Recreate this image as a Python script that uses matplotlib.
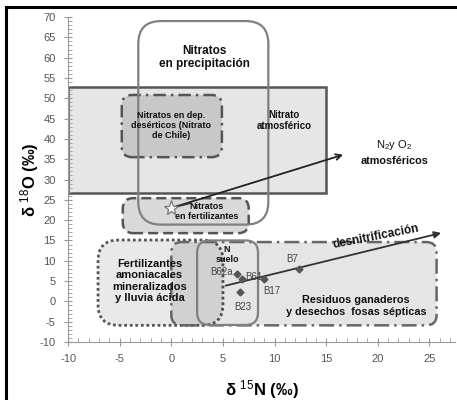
import numpy as np
import matplotlib
matplotlib.use('Agg')
import matplotlib.pyplot as plt
from matplotlib.patches import FancyBboxPatch, Rectangle
from matplotlib.lines import Line2D
from matplotlib.ticker import MultipleLocator

plt.rcParams['font.family'] = ['Liberation Sans', 'DejaVu Sans']
plt.rcParams['axes.unicode_minus'] = False
plt.rcParams['mathtext.fontset'] = 'custom'
plt.rcParams['mathtext.rm'] = 'Liberation Sans'
plt.rcParams['mathtext.it'] = 'Liberation Sans:italic'
plt.rcParams['mathtext.bf'] = 'Liberation Sans:bold'

# ===== データ =====
# 試料点 (δ15N, δ18O)
muestras = ['B62a', 'B61', 'B17', 'B7', 'B23']
d15N = [6.4, 6.8, 9.0, 12.4, 6.7]
d18O = [6.7, 5.5, 5.5, 7.9, 2.3]

# 起源ボックス (x0, y0, x1, y1)
caja_precip = (-3.2, 18.9, 9.4, 69.0)
caja_atm = (-10.0, 26.6, 15.0, 52.8)
caja_chile = (-4.8, 35.5, 4.9, 50.8)
caja_fert = (-4.7, 16.8, 7.5, 25.4)
caja_amon = (-7.1, -5.9, 5.0, 15.1)
caja_resid = (0.0, -5.9, 25.7, 14.6)
caja_suelo = (2.5, -5.8, 8.4, 15.0)

estrella = (0.0, 23.0)
flecha_atm = (16.9, 36.3)
desnit_ini = (5.0, 3.7)
desnit_fin = (26.4, 17.0)

fig = plt.figure(figsize=(4.57, 4.0), dpi=100)
ax = fig.add_axes([0.149, 0.145, 0.847, 0.8125])
ax.set_xlim(-10, 27.5)
ax.set_ylim(-10, 70)

# x方向とy方向のピクセル比
asp = 10.37 / 4.06


def caja(b, r, fc, ec, ls, lw, z):
    x0, y0, x1, y1 = b
    p = FancyBboxPatch((x0, y0), x1 - x0, y1 - y0,
                       boxstyle=f'round,pad=0,rounding_size={r}',
                       mutation_aspect=asp, facecolor=fc, edgecolor=ec,
                       linestyle=ls, linewidth=lw, zorder=z)
    ax.add_patch(p)
    return p


# Nitrato atmosférico
x0, y0, x1, y1 = caja_atm
ax.add_patch(Rectangle((x0, y0), x1 - x0, y1 - y0, facecolor='#e6e6e6',
                       edgecolor='#555555', linewidth=1.8, zorder=1))
# Nitratos en precipitación
caja(caja_precip, 2.2, 'none', '#808080', '-', 1.6, 4)
# Nitratos en dep. desérticos
caja(caja_chile, 1.0, '#c8c8c8', '#555555', (0, (5, 2, 1, 2)), 1.8, 3)
# Nitratos en fertilizantes
caja(caja_fert, 1.0, '#d9d9d9', '#555555', (0, (4, 2)), 1.8, 2)
# Fertilizantes amoniacales
caja(caja_amon, 2.0, (0, 0, 0, 0.085), '#555555', (0, (1, 1)), 2.0, 2)
# Residuos ganaderos
caja(caja_resid, 1.0, (0, 0, 0, 0.1), '#666666', (0, (6, 2, 1, 2)), 1.8, 2)
# N suelo
caja(caja_suelo, 1.2, 'none', '#808080', '-', 1.6, 4)

# 矢印
ax.annotate('', xy=flecha_atm, xytext=estrella,
            arrowprops=dict(arrowstyle='->', color='#222222', lw=1.3), zorder=6)
ax.annotate('', xy=desnit_fin, xytext=desnit_ini,
            arrowprops=dict(arrowstyle='-|>', color='#333333', lw=1.3,
                            mutation_scale=10), zorder=6)
ax.plot([estrella[0], 1.9], [estrella[1], 24.2], color='#333333', lw=1.2, zorder=6)
ax.plot(*estrella, marker='*', markersize=11, markerfacecolor='white',
        markeredgecolor='#777777', markeredgewidth=0.9, zorder=7)

# 試料点
ax.plot(d15N, d18O, linestyle='none', marker='D', markersize=3.5,
        color='#555555', zorder=7)
offs = {'B62a': (-2.6, 0.6), 'B61': (0.4, 0.4), 'B17': (-0.1, -3.0),
        'B7': (-1.3, 2.6), 'B23': (-0.6, -3.6)}
for m, x, y in zip(muestras, d15N, d18O):
    dx, dy = offs[m]
    ax.text(x + dx, y + dy, m, fontsize=7, color='#444444', ha='left',
            va='center', zorder=8)

# テキスト
tk = dict(ha='center', va='center', fontweight='bold', zorder=8, color='#111111')
narrow = ['Liberation Sans Narrow', 'Liberation Sans']
ax.text(3.2, 60.0, 'Nitratos\nen precipitación', fontsize=8.5, linespacing=1.1, **tk)
ax.text(0.0, 43.4, 'Nitratos en dep.\ndesérticos (Nitrato\nde Chile)', fontsize=6.5,
        linespacing=1.15, family=narrow, **tk)
ax.text(10.9, 44.6, 'Nitrato\natmosférico', fontsize=7, linespacing=1.15, **tk)
ax.text(21.6, 38.4, 'N$_2$y O$_2$', fontsize=8, ha='center', va='center',
        color='#111111', zorder=8)
ax.text(21.6, 34.6, 'atmosféricos', fontsize=7.8, **tk)
ax.text(3.4, 22.2, 'Nitratos\nen fertilizantes', fontsize=6.5, linespacing=1.15,
        family=narrow, **tk)
ax.text(-2.1, 5.0, 'Fertilizantes\namoniacales\nmineralizados\ny lluvia ácida',
        fontsize=8, linespacing=1.15, **tk)
ax.text(5.4, 11.6, 'N\nsuelo', fontsize=6.5, linespacing=1.2, **tk)
ax.text(17.9, -1.2, 'Residuos ganaderos\ny desechos  fosas sépticas', fontsize=7.8,
        linespacing=1.2, **tk)
ax.text(19.8, 16.0, 'desnitrificación', fontsize=8.5, rotation=11, **tk)

# 軸
for s in ['top', 'right']:
    ax.spines[s].set_visible(False)
for s in ['left', 'bottom']:
    ax.spines[s].set_color('#999999')
ax.xaxis.set_major_locator(MultipleLocator(5))
ax.xaxis.set_minor_locator(MultipleLocator(1))
ax.yaxis.set_major_locator(MultipleLocator(5))
ax.yaxis.set_minor_locator(MultipleLocator(1))
ax.set_xticks(np.arange(-10, 26, 5))
ax.tick_params(which='major', direction='inout', length=6, color='#999999',
               labelsize=8, labelcolor='#555555', pad=6)
ax.tick_params(which='minor', direction='in', length=3, color='#999999')
ax.set_xlabel('δ $^{15}$N (‰)', fontsize=12, fontweight='bold')
ax.set_ylabel('δ $^{18}$O (‰)', fontsize=12, fontweight='bold')
ax.xaxis.set_label_coords(0.5, -0.11)
ax.yaxis.set_label_coords(-0.07, 0.5)

# 外枠
fig.add_artist(Line2D([6 / 457, 6 / 457], [0, 1 - 7 / 400], transform=fig.transFigure,
                      color='black', lw=2.2))
fig.add_artist(Line2D([6 / 457, 1], [1 - 7 / 400, 1 - 7 / 400], transform=fig.transFigure,
                      color='black', lw=2.2))

fig.savefig('out.png', dpi=100)
